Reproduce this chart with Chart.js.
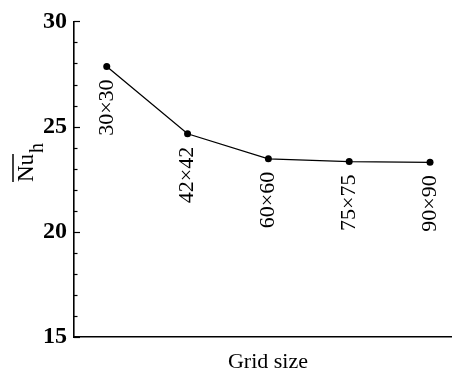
<!DOCTYPE html>
<html><head><meta charset="utf-8">
<script src="https://cdn.jsdelivr.net/npm/chart.js@4/dist/chart.umd.min.js"></script>
<style>html,body{margin:0;padding:0;background:#fff}#wrap{width:452px;height:374px}</style>
</head><body><div id="wrap"><canvas id="c" width="452" height="374"></canvas></div>
<script>
const gridLabels = ['30×30', '42×42', '60×60', '75×75', '90×90'];
const gridIndex = [1, 2, 3, 4, 5];
const nuValues = [27.86, 24.66, 23.47, 23.34, 23.30];
const yTickLabels = [15, 20, 25, 30];
const yMinorStep = 1;

const serif = '"Liberation Serif", "Times New Roman", serif';

const decor = {
  id: 'decor',
  afterDraw(chart) {
    const ctx = chart.ctx;
    const ys = chart.scales.y;
    const area = chart.chartArea;
    ctx.save();
    // inward ticks on y axis
    ctx.strokeStyle = '#000';
    ctx.lineWidth = 1.2;
    for (let v = ys.min; v <= ys.max + 1e-9; v += yMinorStep) {
      const py = Math.round(ys.getPixelForValue(v)) + 0.5;
      const major = yTickLabels.includes(Math.round(v));
      ctx.beginPath();
      ctx.moveTo(area.left, py);
      ctx.lineTo(area.left + (major ? 6 : 3.5), py);
      ctx.stroke();
    }
    // point labels (rotated)
    const meta = chart.getDatasetMeta(0);
    ctx.fillStyle = '#000';
    ctx.font = '22px ' + serif;
    ctx.textAlign = 'right';
    ctx.textBaseline = 'middle';
    meta.data.forEach((pt, i) => {
      ctx.save();
      ctx.translate(pt.x, pt.y + 13);
      ctx.rotate(-Math.PI / 2);
      ctx.fillText(gridLabels[i], 0, 0);
      ctx.restore();
    });
    // y title: overlined Nu with subscript h
    ctx.save();
    ctx.translate(33, 182);
    ctx.rotate(-Math.PI / 2);
    ctx.textAlign = 'left';
    ctx.textBaseline = 'alphabetic';
    ctx.font = '23px ' + serif;
    const w = ctx.measureText('Nu').width;
    ctx.fillText('Nu', 0, 0);
    ctx.lineWidth = 1.5;
    ctx.beginPath();
    ctx.moveTo(0, -20);
    ctx.lineTo(w, -20);
    ctx.stroke();
    ctx.font = '20px ' + serif;
    ctx.fillText('h', w + 1, 10);
    ctx.restore();
    // x title
    ctx.font = '22px ' + serif;
    ctx.textAlign = 'center';
    ctx.textBaseline = 'alphabetic';
    ctx.fillText('Grid size', 268, 368);
    ctx.restore();
  }
};

new Chart(document.getElementById('c'), {
  type: 'line',
  data: {
    datasets: [{
      data: gridIndex.map((x, i) => ({ x: x, y: nuValues[i] })),
      borderColor: '#000',
      borderWidth: 1.3,
      backgroundColor: '#000',
      pointRadius: 3.5,
      pointBackgroundColor: '#000',
      pointBorderColor: '#000',
      pointBorderWidth: 0,
      tension: 0,
      fill: false
    }]
  },
  options: {
    responsive: false,
    animation: false,
    devicePixelRatio: 1,
    layout: { autoPadding: false, padding: { top: 21, right: 0, bottom: 0, left: 0 } },
    plugins: { legend: { display: false }, tooltip: { enabled: false } },
    scales: {
      x: {
        type: 'linear',
        min: 0.595,
        max: 5.272,
        grid: { display: false, drawTicks: false },
        border: { display: true, color: '#000', width: 1.6 },
        ticks: { display: false },
        afterFit: s => { s.height = 37; }
      },
      y: {
        min: 15,
        max: 30,
        afterBuildTicks: s => { s.ticks = yTickLabels.map(v => ({ value: v })); },
        grid: { display: false, drawTicks: false },
        border: { display: true, color: '#000', width: 1.6 },
        ticks: {
          color: '#000',
          padding: 7,
          font: { family: serif, size: 24, weight: 'bold' }
        },
        afterFit: s => { s.width = 74; }
      }
    }
  },
  plugins: [decor]
});
</script>
</body></html>
